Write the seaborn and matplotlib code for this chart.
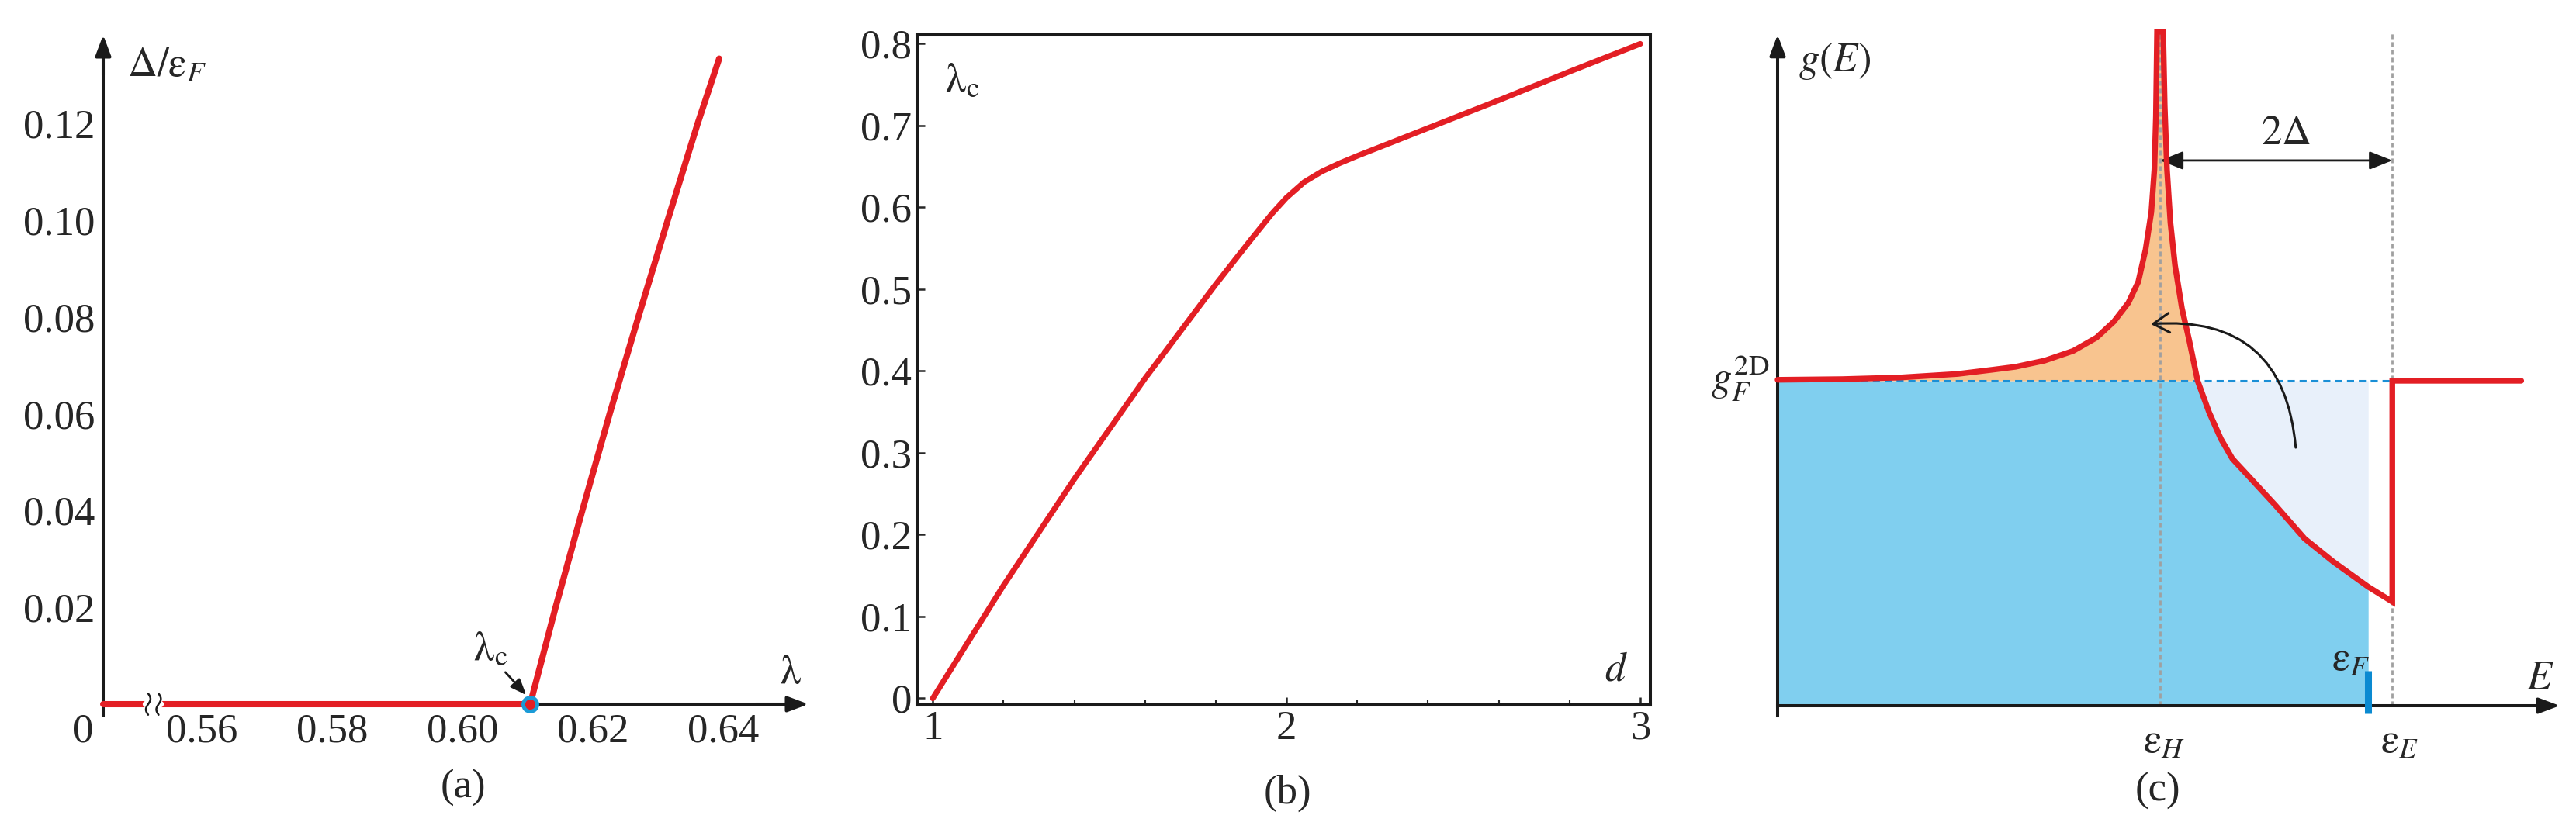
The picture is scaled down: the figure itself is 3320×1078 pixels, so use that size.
import numpy as np
import matplotlib
matplotlib.use("Agg")
import matplotlib.pyplot as plt
from matplotlib.patches import FancyArrowPatch
import seaborn as sns

# ---- data ----
# (a) gap vs coupling
a_lam_lead = [0.5449, 0.5513]
a_lam = [0.5538, 0.6104, 0.6143, 0.6184, 0.6226, 0.6270, 0.6315, 0.6361, 0.6394]
a_gap = [0.0, 0.0, 0.02, 0.04, 0.06, 0.08, 0.10, 0.12, 0.1334]
lam_c = 0.6104
a_xticks = [0.56, 0.58, 0.60, 0.62, 0.64]
a_yticks = [0.02, 0.04, 0.06, 0.08, 0.10, 0.12]

# (b) critical coupling vs dimension
b_d = [1.0, 1.2, 1.4, 1.6, 1.8, 1.9, 1.96, 2.0, 2.05, 2.1, 2.15, 2.2, 2.3, 2.4, 2.6, 2.8, 3.0]
b_lam = [0.0, 0.138, 0.268, 0.391, 0.506, 0.561, 0.593, 0.612, 0.631, 0.644, 0.654, 0.663,
         0.680, 0.697, 0.731, 0.766, 0.80]

# (c) density of states (E in units of eps_H, g in units of g_F^2D)
c_E = [0.0, 0.169, 0.320, 0.471, 0.562, 0.622, 0.698, 0.773, 0.834, 0.879, 0.917,
       0.943, 0.962, 0.977, 0.985, 0.989, 0.992, 1.008, 1.012, 1.018, 1.027, 1.039,
       1.057, 1.076, 1.098, 1.128, 1.159, 1.189, 1.219, 1.302, 1.378, 1.453, 1.544,
       1.607, 1.607, 1.944]
c_g = [1.003, 1.005, 1.010, 1.021, 1.034, 1.043, 1.062, 1.092, 1.133, 1.182, 1.240,
       1.305, 1.404, 1.519, 1.650, 1.814, 2.074, 2.074, 1.847, 1.650, 1.486, 1.355,
       1.223, 1.125, 1.0, 0.903, 0.821, 0.760, 0.722, 0.616, 0.514, 0.443, 0.366,
       0.320, 1.0, 1.0]
eps_H, eps_E, eps_F, E_cross = 1.0, 1.607, 1.544, 1.098

RED = "#e31e24"
BLUE_FILL = "#80cfef"
ORANGE = "#f8c48f"
LAVENDER = "#e8f0fa"
BLUE_LINE = "#1a8fd6"
GREY = "#a0a0a0"
AX_LW = 2.9

sns.set_theme(style="white")
plt.rcParams["font.family"] = ["Liberation Serif", "STIXGeneral", "DejaVu Serif"]
plt.rcParams["mathtext.fontset"] = "stix"
FS = 38

W, H = 3320, 1078
fig = plt.figure(figsize=(33.2, 10.78), dpi=100)


def data_axes(l, r, t, b, xlim, ylim, m=40):
    # axes whose data box (xlim, ylim) lands on pixels l..r, t..b, with a margin
    ax = fig.add_axes([(l - m) / W, 1 - (b + m) / H, (r - l + 2 * m) / W, (b - t + 2 * m) / H])
    sx = (xlim[1] - xlim[0]) / (r - l)
    sy = (ylim[1] - ylim[0]) / (b - t)
    ax.set_xlim(xlim[0] - m * sx, xlim[1] + m * sx)
    ax.set_ylim(ylim[0] - m * sy, ylim[1] + m * sy)
    for s in ("top", "right"):
        ax.spines[s].set_visible(False)
    for s in ("left", "bottom"):
        ax.spines[s].set_linewidth(AX_LW)
        ax.spines[s].set_color("k")
    ax.spines["left"].set_position(("data", xlim[0]))
    ax.spines["bottom"].set_position(("data", ylim[0]))
    ax.patch.set_alpha(0)
    return ax


def head(ax, start, end):
    ax.annotate("", xy=end, xytext=start, annotation_clip=False,
                arrowprops=dict(arrowstyle="-|>,head_length=0.4,head_width=0.15",
                                mutation_scale=41, lw=AX_LW, color="k",
                                shrinkA=0, shrinkB=0), zorder=3)


# ================= (a) =================
ax = data_axes(133, 1042, 45, 908, (0.5449, 0.6531), (0, 0.1383))
ax.spines["left"].set_bounds(-0.0022, 0.134)
ax.spines["bottom"].set_bounds(0.5449, 0.650)
head(ax, (0.5449, 0.130), (0.5449, 0.1383))
head(ax, (0.645, 0), (0.6531, 0))
ax.set_xticks(a_xticks)
ax.set_xticklabels([f"{v:.2f}" for v in a_xticks])
ax.set_yticks([0] + a_yticks)
ax.set_yticklabels([""] + [f"{v:.2f}" for v in a_yticks])
ax.tick_params(axis="x", direction="in", length=13, width=1.8, pad=8, labelsize=FS)
ax.tick_params(axis="y", direction="out", length=8, width=1.8, pad=0, labelsize=FS)
ax.annotate("0", xy=(0.5418, 0), xytext=(0, -8), textcoords="offset points",
            ha="center", va="top", fontsize=FS, annotation_clip=False)

sns.lineplot(x=a_lam_lead, y=[0, 0], ax=ax, color=RED, linewidth=5.8,
             estimator=None, sort=False, zorder=5)
sns.lineplot(x=a_lam, y=a_gap, ax=ax, color=RED, linewidth=5.8,
             estimator=None, sort=False, zorder=5)
# axis break
ax.plot([0.5514, 0.5537], [0, 0], color="white", lw=6, zorder=6)
t = np.linspace(-1, 1, 30)
for xc in (0.5518, 0.5534):
    ax.plot(xc + 0.00035 * np.sin(np.pi * t), 0.0022 * t, color="k", lw=1.8, zorder=7)
ax.plot([lam_c], [0], marker="o", ms=13, mfc=RED, mec="#1b9bd7", mew=3.5, zorder=8)
ax.annotate("", xy=(0.6098, 0.0019), xytext=(0.6066, 0.0066),
            arrowprops=dict(arrowstyle="-|>,head_length=0.5,head_width=0.2",
                            mutation_scale=25, lw=2, color="k", shrinkA=0, shrinkB=0))
ax.text(0.6043, 0.0112, r"$\mathrm{λ}_\mathrm{c}$", fontsize=FS, ha="center", va="center")
ax.text(0.6504, 0.0064, r"$\mathrm{λ}$", fontsize=FS, ha="center", va="center")
ax.text(0.5486, 0.1317, r"$\Delta/\mathrm{ε}_F$", fontsize=FS, ha="left", va="center")
fig.text(597 / W, 1 - 1016 / H, "(a)", fontsize=FS, ha="center", va="center")

# ================= (b) =================
ax = fig.add_axes([1182 / W, 1 - 909 / H, (2127 - 1182) / W, (909 - 45) / H])
ax.set_xlim(0.9557, 3.0285)
ax.set_ylim(-0.0081, 0.8109)
for s in ax.spines.values():
    s.set_visible(True)
    s.set_linewidth(AX_LW)
    s.set_color("k")
sns.lineplot(x=b_d, y=b_lam, ax=ax, color=RED, linewidth=5.2,
             estimator=None, sort=False)
ax.set_xticks([1, 2, 3])
ax.set_xticklabels(["1", "2", "3"])
ax.set_xticks([1.2, 1.4, 1.6, 1.8, 2.2, 2.4, 2.6, 2.8], minor=True)
yt = [0, 0.1, 0.2, 0.3, 0.4, 0.5, 0.6, 0.7, 0.8]
ax.set_yticks(yt)
ax.set_yticklabels(["0"] + [f"{v:.1f}" for v in yt[1:]])
ax.tick_params(axis="both", which="major", direction="in", length=7, width=1.8,
               labelsize=FS, bottom=True, left=True, top=False, right=False)
ax.tick_params(axis="x", which="minor", direction="in", length=4.5, width=1.5,
               bottom=True, top=False)
ax.tick_params(axis="x", which="major", pad=5)
ax.tick_params(axis="y", which="major", pad=5)
ax.set_xlabel("")
ax.set_ylabel("")
ax.text(1.083, 0.754, r"$\mathrm{λ}_\mathrm{c}$", fontsize=FS, ha="center", va="center")
ax.text(2.932, 0.034, r"$d$", fontsize=FS, ha="center", va="center")
fig.text(1659 / W, 1 - 1023 / H, "(b)", fontsize=FS, ha="center", va="center")

# ================= (c) =================
ax = data_axes(2291, 3299, 42, 910, (0, 2.0446), (0, 2.0716))
ax.spines["left"].set_bounds(-0.031, 2.03)
ax.spines["bottom"].set_bounds(0, 2.0)
head(ax, (0, 2.0), (0, 2.065))
head(ax, (1.98, 0), (2.0446, 0))
E = np.array(c_E)
g = np.array(c_g)
core = np.arange(len(E)) < len(E) - 2
m_blue = core & (E <= eps_F)
ax.fill_between(E[m_blue], 0, np.minimum(g[m_blue], 1), color=BLUE_FILL, lw=0, zorder=1)
m_or = core & (E <= E_cross)
ax.fill_between(E[m_or], 1, g[m_or], color=ORANGE, lw=0, zorder=1)
m_lav = core & (E >= E_cross) & (E <= eps_F)
ax.fill_between(E[m_lav], g[m_lav], 1, color=LAVENDER, lw=0, zorder=1)
ax.plot([0, eps_E], [1, 1], color=BLUE_LINE, lw=2.2, ls=(0, (3, 2)), zorder=2)
for xv in (eps_H, eps_E):
    ax.plot([xv, xv], [0, 2.07], color=GREY, lw=2.0, ls=(0, (2.2, 1.4)), zorder=2)
sns.lineplot(x=c_E, y=c_g, ax=ax, color=RED, linewidth=5.3, estimator=None,
             sort=False, zorder=4)
ax.lines[-1].set_solid_joinstyle("miter")
ax.set_yticks([0])
ax.set_yticklabels([""])
ax.set_xticks([eps_H, eps_E])
ax.set_xticklabels(["", ""])
ax.tick_params(axis="y", direction="out", length=8.6, width=2.2)
ax.tick_params(axis="x", direction="inout", length=17, width=2.5)
ax.plot([eps_F, eps_F], [-0.024, 0.107], color="#0b8ad1", lw=6.5, zorder=6,
        solid_capstyle="butt")
ax.annotate("", xy=(eps_E, 1.678), xytext=(eps_H, 1.678),
            arrowprops=dict(arrowstyle="<|-|>,head_length=0.5,head_width=0.2",
                            mutation_scale=36, lw=2, color="k", shrinkA=0, shrinkB=0))
arc = FancyArrowPatch((1.355, 0.788), (0.970, 1.174),
                      connectionstyle="arc3,rad=0.5",
                      arrowstyle="->,head_length=0.5,head_width=0.3",
                      mutation_scale=30, lw=2.2, color="k", zorder=7)
ax.add_patch(arc)
ax.text(1.329, 1.759, r"$2\Delta$", fontsize=FS, ha="center", va="center")
ax.text(0.150, 1.983, r"$g(E)$", fontsize=FS, ha="center", va="center")
ax.text(-0.022, 1.007, r"$g_F^{\mathrm{2D}}$", fontsize=FS, ha="right", va="center")
ax.text(1.994, 0.081, r"$E$", fontsize=FS, ha="center", va="center")
ax.text(1.499, 0.14, r"$\mathrm{ε}_F$", fontsize=FS, ha="center", va="center")
ax.text(eps_H + 0.01, -0.057, r"$\mathrm{ε}_H$", fontsize=FS, ha="center", va="top")
ax.text(eps_E + 0.02, -0.057, r"$\mathrm{ε}_E$", fontsize=FS, ha="center", va="top")
fig.text(2781 / W, 1 - 1020 / H, "(c)", fontsize=FS, ha="center", va="center")

fig.savefig("out.png", dpi=100)
